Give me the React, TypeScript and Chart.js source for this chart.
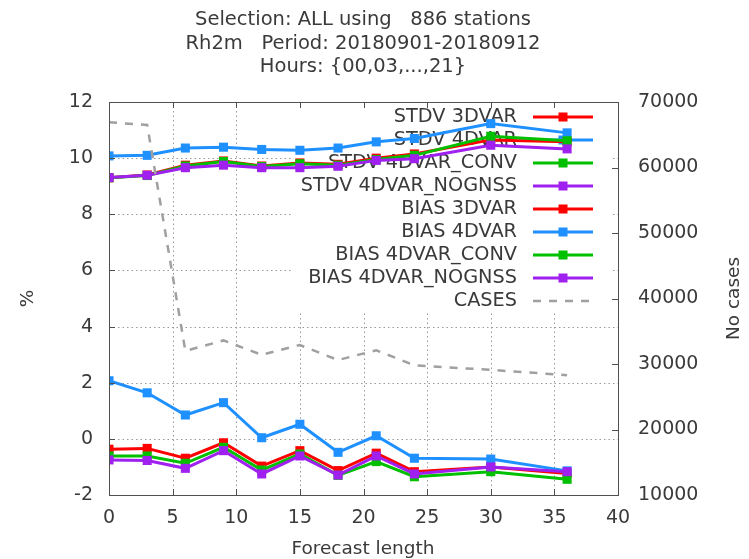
import React, { useEffect, useRef } from "react";
import { Chart, registerables } from "chart.js";

Chart.register(...registerables);

// ---- data ----
const forecastHours = [0, 3, 6, 9, 12, 15, 18, 21, 24, 30, 36];

const stdv3dvar = [9.3, 9.4, 9.75, 9.9, 9.72, 9.83, 9.78, 10.0, 10.15, 10.65, 10.58];
const stdv4dvar = [10.08, 10.1, 10.36, 10.39, 10.31, 10.28, 10.36, 10.58, 10.7, 11.23, 10.9];
const stdv4dvarConv = [9.3, 9.38, 9.72, 9.88, 9.7, 9.8, 9.75, 9.95, 10.1, 10.78, 10.62];
const stdv4dvarNoGnss = [9.31, 9.39, 9.66, 9.75, 9.66, 9.66, 9.71, 9.92, 9.98, 10.46, 10.33];

const bias3dvar = [-0.37, -0.34, -0.69, -0.14, -0.97, -0.42, -1.13, -0.51, -1.17, -1.0, -1.23];
const bias4dvar = [2.07, 1.64, 0.85, 1.29, 0.04, 0.52, -0.48, 0.11, -0.69, -0.72, -1.14];
const bias4dvarConv = [-0.61, -0.61, -0.87, -0.3, -1.11, -0.54, -1.3, -0.81, -1.35, -1.17, -1.44];
const bias4dvarNoGnss = [-0.75, -0.77, -1.05, -0.42, -1.25, -0.61, -1.29, -0.61, -1.25, -1.0, -1.17];

const casesCount = [66900, 66500, 32000, 33600, 31400, 32900, 30600, 32100, 29800, 29100, 28300];

const seriesLabels = [
  "STDV 3DVAR",
  "STDV 4DVAR",
  "STDV 4DVAR_CONV",
  "STDV 4DVAR_NOGNSS",
  "BIAS 3DVAR",
  "BIAS 4DVAR",
  "BIAS 4DVAR_CONV",
  "BIAS 4DVAR_NOGNSS",
  "CASES",
];

const titleLines = [
  "Selection: ALL using   886 stations",
  "Rh2m   Period: 20180901-20180912",
  "Hours: {00,03,...,21}",
];
const xAxisTitle = "Forecast length";
const yAxisTitle = "%";
const y2AxisTitle = "No cases";

// ---- styling ----
const RED = "#ff0000";
const BLUE = "#1e90ff";
const GREEN = "#00c000";
const PURPLE = "#a020f0";
const GRAY = "#a0a0a0";
const TEXT = "#3a3a3a";
const FONT = "DejaVu Sans";

const seriesValues = [
  stdv3dvar, stdv4dvar, stdv4dvarConv, stdv4dvarNoGnss,
  bias3dvar, bias4dvar, bias4dvarConv, bias4dvarNoGnss,
];
const seriesColors = [RED, BLUE, GREEN, PURPLE, RED, BLUE, GREEN, PURPLE];

const toPoints = (vals: number[]) => forecastHours.map((x, i) => ({ x, y: vals[i] }));

const gnuplotPlugin = {
  id: "gnuplotFrame",
  beforeDatasetsDraw(chart: any) {
    const { ctx, chartArea: a, scales } = chart;
    ctx.save();
    // dotted grid
    ctx.strokeStyle = "#999999";
    ctx.lineWidth = 1;
    ctx.setLineDash([1.5, 3]);
    scales.y.ticks.forEach((t: any) => {
      if (t.value <= scales.y.min || t.value >= scales.y.max) return;
      const py = Math.round(scales.y.getPixelForValue(t.value)) + 0.5;
      ctx.beginPath();
      ctx.moveTo(a.left, py);
      ctx.lineTo(a.right, py);
      ctx.stroke();
    });
    scales.x.ticks.forEach((t: any) => {
      if (t.value <= scales.x.min || t.value >= scales.x.max) return;
      const px = Math.round(scales.x.getPixelForValue(t.value)) + 0.5;
      ctx.beginPath();
      ctx.moveTo(px, a.top);
      ctx.lineTo(px, a.bottom);
      ctx.stroke();
    });
    ctx.setLineDash([]);

    // key box (opaque)
    const keyLeft = 293;
    const keyRight = 610;
    const keyTop = a.top + 1;
    const keyBottom = 313;
    ctx.fillStyle = "#ffffff";
    ctx.fillRect(keyLeft, keyTop, keyRight - keyLeft, keyBottom - keyTop);

    // key entries
    ctx.font = `19.3px "${FONT}"`;
    ctx.textAlign = "right";
    ctx.textBaseline = "middle";
    chart.data.datasets.forEach((ds: any, i: number) => {
      const yy = 117 + i * 23;
      ctx.fillStyle = TEXT;
      ctx.fillText(ds.label, 517, yy);
      ctx.strokeStyle = ds.borderColor;
      ctx.lineWidth = ds.borderWidth;
      ctx.setLineDash(ds.borderDash || []);
      ctx.beginPath();
      ctx.moveTo(533, yy);
      ctx.lineTo(593, yy);
      ctx.stroke();
      ctx.setLineDash([]);
      if (ds.pointRadius > 0) {
        ctx.fillStyle = ds.borderColor;
        ctx.fillRect(563 - 4.5, yy - 4.5, 9, 9);
      }
    });
    ctx.restore();
  },
  afterDatasetsDraw(chart: any) {
    const { ctx, chartArea: a, scales } = chart;
    ctx.save();
    ctx.strokeStyle = "#505050";
    ctx.lineWidth = 1;
    ctx.strokeRect(Math.round(a.left) + 0.5, Math.round(a.top) + 0.5,
      Math.round(a.right - a.left), Math.round(a.bottom - a.top));
    const tl = 6;
    ctx.beginPath();
    scales.y.ticks.forEach((t: any) => {
      const py = Math.round(scales.y.getPixelForValue(t.value)) + 0.5;
      ctx.moveTo(a.left, py);
      ctx.lineTo(a.left + tl, py);
    });
    scales.y2.ticks.forEach((t: any) => {
      const py = Math.round(scales.y2.getPixelForValue(t.value)) + 0.5;
      ctx.moveTo(a.right, py);
      ctx.lineTo(a.right - tl, py);
    });
    scales.x.ticks.forEach((t: any) => {
      const px = Math.round(scales.x.getPixelForValue(t.value)) + 0.5;
      ctx.moveTo(px, a.bottom);
      ctx.lineTo(px, a.bottom - tl);
      ctx.moveTo(px, a.top);
      ctx.lineTo(px, a.top + tl);
    });
    ctx.stroke();
    ctx.restore();
  },
  afterDraw(chart: any) {
    const { ctx, chartArea: a } = chart;
    ctx.save();
    ctx.fillStyle = TEXT;
    ctx.textAlign = "center";
    ctx.textBaseline = "middle";
    ctx.font = `19.5px "${FONT}"`;
    const cx = 363;
    titleLines.forEach((line, i) => ctx.fillText(line, cx, 20 + i * 23.5));
    ctx.font = `18.5px "${FONT}"`;
    ctx.fillText(xAxisTitle, cx, 549);
    ctx.save();
    ctx.translate(28, (a.top + a.bottom) / 2);
    ctx.rotate(-Math.PI / 2);
    ctx.fillText(yAxisTitle, 0, 0);
    ctx.restore();
    ctx.save();
    ctx.translate(734, (a.top + a.bottom) / 2);
    ctx.rotate(-Math.PI / 2);
    ctx.fillText(y2AxisTitle, 0, 0);
    ctx.restore();
    ctx.restore();
  },
};

export default function App() {
  const canvasRef = useRef<HTMLCanvasElement | null>(null);

  useEffect(() => {
    const canvas = canvasRef.current;
    if (!canvas) return;

    const datasets: any[] = seriesValues.map((vals, i) => ({
      label: seriesLabels[i],
      data: toPoints(vals),
      borderColor: seriesColors[i],
      backgroundColor: seriesColors[i],
      pointBackgroundColor: seriesColors[i],
      pointBorderWidth: 0,
      pointStyle: "rect",
      pointRadius: 6.4,
      borderWidth: 3,
      tension: 0,
      yAxisID: "y",
      order: 20 - i,
    }));
    datasets.push({
      label: seriesLabels[8],
      data: toPoints(casesCount),
      borderColor: GRAY,
      backgroundColor: GRAY,
      borderDash: [8, 8],
      borderWidth: 2.5,
      pointRadius: 0,
      tension: 0,
      yAxisID: "y2",
      order: 1,
    });

    const tickFont = { family: FONT, size: 19 };

    const chart = new Chart(canvas, {
      type: "line",
      data: { datasets },
      options: {
        animation: false,
        responsive: false,
        devicePixelRatio: 1,
        layout: { padding: { top: 102, left: 0, right: 0, bottom: 0 } },
        plugins: {
          legend: { display: false },
          title: { display: false },
          tooltip: { enabled: false },
        },
        scales: {
          x: {
            type: "linear",
            min: 0,
            max: 40,
            grid: { display: false, drawTicks: false },
            border: { display: false },
            ticks: { stepSize: 5, font: tickFont, color: TEXT, padding: 12, maxRotation: 0 },
            afterFit: (s: any) => { s.height = 64; },
          },
          y: {
            type: "linear",
            position: "left",
            min: -2,
            max: 12,
            grid: { display: false, drawTicks: false },
            border: { display: false },
            ticks: { stepSize: 2, font: tickFont, color: TEXT, padding: 16 },
            afterFit: (s: any) => { s.width = 109; },
          },
          y2: {
            type: "linear",
            position: "right",
            min: 10000,
            max: 70000,
            grid: { display: false, drawTicks: false },
            border: { display: false },
            ticks: {
              stepSize: 10000,
              font: tickFont,
              color: TEXT,
              padding: 20,
              callback: (v: any) => String(v),
            },
            afterFit: (s: any) => { s.width = 131; },
          },
        },
      } as any,
      plugins: [gnuplotPlugin],
    });

    return () => chart.destroy();
  }, []);

  return (
    <div style={{ position: "absolute", left: 0, top: 0, width: 749, height: 559, background: "#fff" }}>
      <canvas ref={canvasRef} width={749} height={559} style={{ display: "block" }} />
    </div>
  );
}
